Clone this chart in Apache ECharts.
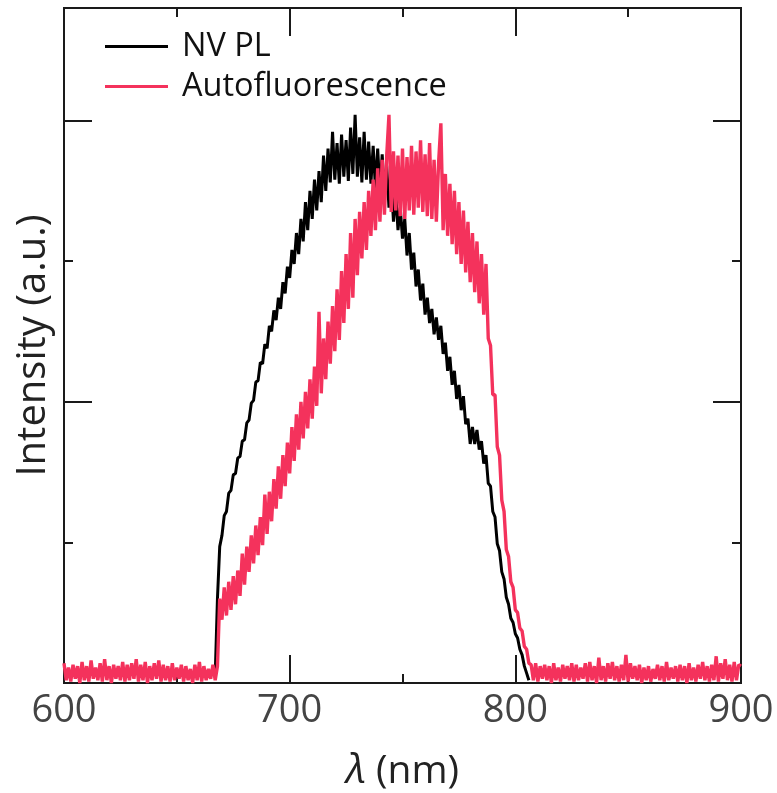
<!DOCTYPE html>
<html>
<head>
<meta charset="utf-8">
<script src="https://cdn.jsdelivr.net/npm/echarts@6/dist/echarts.min.js"></script>
<style>
html,body{margin:0;padding:0;background:#fff;}
#chart{width:777px;height:793px;}
</style>
</head>
<body>
<div id="chart"></div>
<script>
// ---- DATA ----
const seriesNames = ['NV PL', 'Autofluorescence'];
const xTickLabels = ['600', '700', '800', '900'];
const yAxisName = 'Intensity (a.u.)';
const xAxisName = '{i|λ} (nm)';

// Autofluorescence: wavelength grid starts at 600 nm, 1 nm step
const autoStart = 600;
const autoStep = 1;
const autoValues = [
  // 600-609
  0.14,0.02,0.11,0.01,0.13,0.03,0.12,0.00,0.15,0.02,
  // 610-619
  0.12,0.01,0.16,0.03,0.11,0.02,0.14,0.01,0.17,0.02,
  // 620-629
  0.12,0.00,0.13,0.03,0.12,0.02,0.15,0.01,0.13,0.02,
  // 630-639
  0.14,0.03,0.17,0.01,0.13,0.02,0.15,0.00,0.12,0.02,
  // 640-649
  0.14,0.03,0.16,0.01,0.13,0.02,0.12,0.01,0.14,0.02,
  // 650-659
  0.11,0.03,0.13,0.01,0.12,0.02,0.10,0.00,0.13,0.02,
  // 660-668
  0.15,0.01,0.12,0.02,0.10,0.03,0.13,0.02,0.12,
  // 669-678
  0.60,0.45,0.68,0.48,0.72,0.52,0.76,0.56,0.80,0.62,
  // 679-688
  0.92,0.70,0.97,0.79,1.05,0.85,1.12,0.91,1.18,0.98,
  // 689-698
  1.34,1.06,1.36,1.15,1.45,1.24,1.54,1.31,1.62,1.40,
  // 699-708
  1.71,1.49,1.82,1.58,1.91,1.66,2.00,1.74,2.07,1.81,
  // 709-718
  2.16,1.88,2.25,1.97,2.64,2.06,2.45,2.16,2.57,2.27,
  // 719-728
  2.68,2.36,2.80,2.44,2.93,2.56,3.05,2.66,3.20,2.74,
  // 729-738
  3.30,2.90,3.35,3.02,3.42,3.08,3.50,3.18,3.58,3.22,
  // 739-748
  3.66,3.28,3.72,3.33,3.75,4.04,3.35,3.78,3.36,3.75,
  // 749-758
  3.32,3.80,3.30,3.74,3.36,3.82,3.33,3.78,3.38,3.86,
  // 759-768
  3.35,3.76,3.32,3.84,3.30,3.72,3.28,3.70,3.98,3.22,
  // 769-778
  3.62,3.18,3.55,3.12,3.50,3.05,3.42,2.98,3.36,2.92,
  // 779-788
  3.28,2.85,3.20,2.78,3.14,2.70,3.05,2.62,2.98,2.45,
  // 789-798
  2.40,2.05,2.05,1.68,1.62,1.30,1.22,0.95,0.90,0.72,
  // 799-807
  0.68,0.52,0.50,0.39,0.37,0.26,0.24,0.14,0.13,
  // 808-817
  0.02,0.14,0.01,0.12,0.03,0.13,0.02,0.12,0.00,0.14,
  // 818-827
  0.02,0.11,0.01,0.13,0.03,0.12,0.02,0.14,0.01,0.13,
  // 828-837
  0.02,0.11,0.03,0.14,0.01,0.15,0.02,0.12,0.00,0.18,
  // 838-847
  0.02,0.12,0.01,0.14,0.03,0.15,0.02,0.12,0.01,0.13,
  // 848-857
  0.02,0.20,0.01,0.14,0.03,0.12,0.02,0.13,0.00,0.11,
  // 858-867
  0.02,0.12,0.01,0.10,0.03,0.13,0.02,0.12,0.01,0.15,
  // 868-877
  0.02,0.11,0.03,0.12,0.01,0.13,0.02,0.12,0.00,0.14,
  // 878-887
  0.02,0.11,0.01,0.13,0.03,0.15,0.02,0.12,0.01,0.13,
  // 888-897
  0.02,0.19,0.01,0.14,0.03,0.17,0.02,0.13,0.01,0.15,
  // 898-900
  0.02,0.13,0.12
];

// NV PL: wavelength grid starts at 667 nm, 1 nm step
const nvStart = 667;
const nvStep = 1;
const nvValues = [
  // 667-676
  0.05,0.60,0.97,1.05,1.19,1.22,1.35,1.37,1.48,1.49,
  // 677-686
  1.60,1.61,1.72,1.73,1.85,1.87,1.99,2.01,2.14,2.15,
  // 687-696
  2.28,2.27,2.41,2.38,2.54,2.50,2.65,2.58,2.74,2.66,
  // 697-706
  2.85,2.77,2.96,2.88,3.08,2.98,3.20,3.05,3.30,3.14,
  // 707-716
  3.42,3.22,3.50,3.30,3.58,3.36,3.64,3.42,3.75,3.50,
  // 717-726
  3.80,3.56,3.92,3.58,3.84,3.55,3.90,3.60,3.86,3.57,
  // 727-736
  3.95,3.62,4.04,3.60,3.88,3.56,3.92,3.58,3.85,3.55,
  // 737-746
  3.82,3.52,3.80,3.50,3.76,3.46,3.68,3.38,3.58,3.28,
  // 747-756
  3.48,3.22,3.38,3.16,3.30,3.04,3.20,2.94,3.06,2.82,
  // 757-766
  2.94,2.72,2.84,2.62,2.74,2.56,2.66,2.48,2.60,2.44,
  // 767-776
  2.54,2.34,2.42,2.22,2.32,2.12,2.22,2.02,2.12,1.94,
  // 777-786
  2.04,1.84,1.88,1.70,1.82,1.70,1.80,1.66,1.72,1.56,
  // 787-796
  1.62,1.42,1.40,1.22,1.18,0.99,0.94,0.79,0.74,0.61,
  // 797-806
  0.56,0.46,0.43,0.35,0.32,0.24,0.20,0.12,0.07,0.02
];

const toPairs = (start, step, vals) => vals.map((v, i) => [start + i * step, v]);

const chart = echarts.init(document.getElementById('chart'), null, {renderer: 'canvas'});
const FONT = 'Open Sans';
const AX = '#1a1a1a';

function xAx(pos, interval, len, labels) {
  return {
    type: 'value', position: pos, min: 600, max: 900, interval: interval,
    axisLine: {show: true, onZero: false, lineStyle: {color: AX, width: 2}},
    axisTick: {show: true, inside: true, length: len, lineStyle: {color: AX, width: 2}},
    axisLabel: labels ? {show: true, margin: 9, fontFamily: FONT, fontSize: 38, color: '#444',
      formatter: v => { const s = String(v); return xTickLabels.indexOf(s) >= 0 ? s : ''; }} : {show: false},
    splitLine: {show: false}
  };
}
function yAx(pos, interval, len) {
  return {
    type: 'value', position: pos, min: 0, max: 4.8, interval: interval,
    axisLine: {show: true, onZero: false, lineStyle: {color: AX, width: 2}},
    axisTick: {show: true, inside: true, length: len, lineStyle: {color: AX, width: 2}},
    axisLabel: {show: false},
    splitLine: {show: false}
  };
}

const xMain = xAx('bottom', 100, 28, true);
xMain.name = xAxisName;
xMain.nameLocation = 'middle';
xMain.nameGap = 68;
xMain.nameTextStyle = {fontFamily: FONT, fontSize: 39, color: '#222',
  rich: {i: {fontFamily: FONT, fontStyle: 'italic', fontSize: 41, color: '#222'}}};

const yMain = yAx('left', 2, 28);
yMain.name = yAxisName;
yMain.nameLocation = 'middle';
yMain.nameGap = 10;
yMain.nameTextStyle = {fontFamily: FONT, fontSize: 40, color: '#222'};

const option = {
  animation: false,
  backgroundColor: '#fff',
  grid: {left: 64, right: 36, top: 8, bottom: 110, containLabel: false, outerBoundsMode: 'none'},
  legend: {
    data: seriesNames,
    orient: 'vertical',
    left: 100, top: 25,
    itemGap: 7,
    icon: 'rect',
    itemWidth: 63, itemHeight: 3,
    textStyle: {fontFamily: FONT, fontSize: 32.5, color: '#111', padding: [0, 0, 0, 9]}
  },
  xAxis: [
    xMain,
    xAx('bottom', 50, 9, false),
    xAx('top', 100, 28, false),
    xAx('top', 50, 9, false)
  ],
  yAxis: [
    yMain,
    yAx('left', 1, 9),
    yAx('right', 2, 28),
    yAx('right', 1, 9)
  ],
  series: [
    {
      name: seriesNames[0], type: 'line', xAxisIndex: 0, yAxisIndex: 0,
      data: toPairs(nvStart, nvStep, nvValues),
      showSymbol: false, symbol: 'none', z: 2,
      lineStyle: {color: '#000000', width: 3},
      itemStyle: {color: '#000000'}
    },
    {
      name: seriesNames[1], type: 'line', xAxisIndex: 0, yAxisIndex: 0,
      data: toPairs(autoStart, autoStep, autoValues),
      showSymbol: false, symbol: 'none', z: 3,
      lineStyle: {color: '#f4325c', width: 3.4},
      itemStyle: {color: '#f4325c'}
    }
  ]
};
chart.setOption(option);
</script>
</body>
</html>
